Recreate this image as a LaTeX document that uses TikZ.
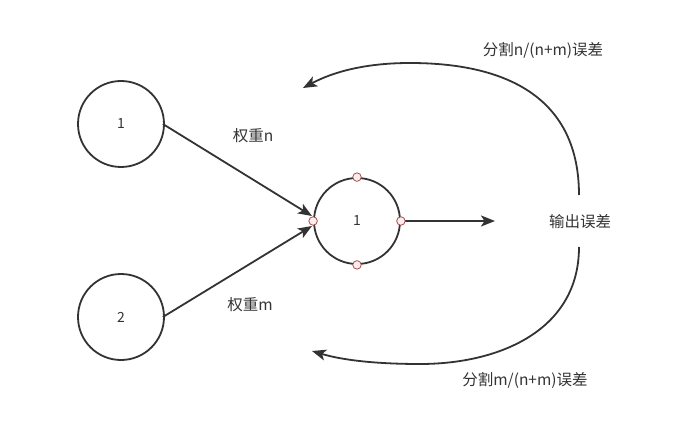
\documentclass[tikz,border=0pt]{standalone}
\usepackage{fontspec}
\setmainfont{Noto Sans CJK SC}
\usetikzlibrary{arrows.meta}
\definecolor{ink}{HTML}{333333}
\definecolor{portline}{HTML}{A05050}
\definecolor{portfill}{HTML}{FFECEC}
\begin{document}
\begin{tikzpicture}[x=1pt,y=-1pt,
  neuron/.style={circle,draw=ink,line width=1.8pt,minimum size=86pt,inner sep=0pt,font=\fontsize{14}{16}\selectfont,text=ink},
  port/.style={circle,draw=portline,fill=portfill,line width=0.8pt,minimum size=8.5pt,inner sep=0pt},
  lbl/.style={font=\fontsize{15.5}{18}\selectfont,text=ink,inner sep=0pt},
  conn/.style={draw=ink,line width=1.8pt,-{Stealth[length=14pt,width=11pt,inset=3.5pt]}}]
\useasboundingbox (0,0) rectangle (699,433);
\node[neuron] (a) at (121,124) {1};
\node[neuron] (b) at (121,317) {2};
\node[neuron] (c) at (357,221) {1};
\coordinate (ta) at (312,216);
\coordinate (tb) at (312,226);
\coordinate (tout) at (495,221);
\coordinate (ts) at (579,195);
\coordinate (bs) at (579,247);
\coordinate (tt) at (303,88);
\coordinate (bt) at (312,351);
\draw[conn] (a.east) ++(-2,0) -- (ta);
\draw[conn] (b.east) ++(-2,0) -- (tb);
\draw[conn] (c.east) -- (tout);
\node[port] (pt) at (c.north) {};
\node[port] (pb) at (c.south) {};
\node[port] (pl) at (c.west) {};
\node[port] (pr) at (c.east) {};
\draw[conn] (ts) .. controls (579,100) and (510,63) .. (410,63) .. controls (365,63) and (333,72) .. (tt);
\draw[conn] (bs) .. controls (579,330) and (500,364) .. (420,364) .. controls (375,364) and (342,360) .. (bt);
\node[lbl] (wn) at (253,136) {权重n};
\node[lbl] (wm) at (250,305) {权重m};
\node[lbl] (out) at (580,222) {输出误差};
\node[lbl] (sn) at (543,50) {分割n/(n+m)误差};
\node[lbl] (sm) at (525,380) {分割m/(n+m)误差};
\end{tikzpicture}
\end{document}
